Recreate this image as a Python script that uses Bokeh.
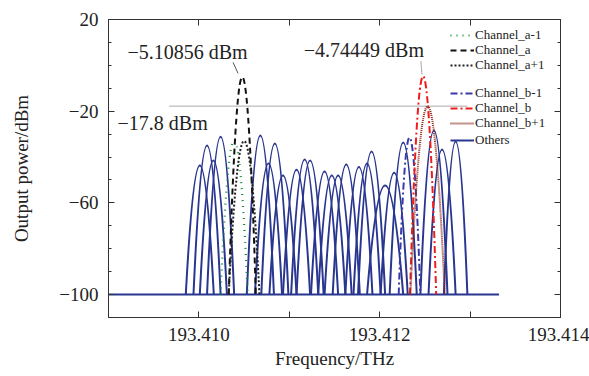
from bokeh.plotting import figure
from bokeh.models import (Range1d, FixedTicker, LinearAxis, Legend, LegendItem,
                          Label, ColumnDataSource)
from bokeh.embed import file_html
from bokeh.resources import INLINE

# ---------------- data ----------------
others_freq = [193.41001, 193.41009, 193.41016, 193.41024, 193.41068, 193.41077,
               193.41084, 193.41093, 193.41108, 193.41117, 193.41123, 193.41139,
               193.41147, 193.41154, 193.41163, 193.41177, 193.41186, 193.41191,
               193.41206, 193.41216, 193.41226, 193.41260, 193.41269, 193.41284]
others_peak = [-43.7, -35.0, -41.5, -31.1, -30.6, -42.8,
               -34.1, -48.1, -45.5, -41.1, -41.5, -46.3,
               -48.1, -48.1, -43.3, -44.3, -42.8, -37.6,
               -52.4, -46.8, -33.7, -28.4, -36.7, -33.2]
others_hw = [0.000155, 0.00015, 0.00015, 0.00015, 0.00015, 0.00015,
             0.00015, 0.00015, 0.00015, 0.00015, 0.00015, 0.00015,
             0.00015, 0.00015, 0.00015, 0.00015, 0.00015, 0.00015,
             0.00020, 0.00015, 0.00015, 0.00015, 0.00015, 0.00013]

channel_names = ["Channel_a-1", "Channel_a", "Channel_a+1",
                 "Channel_b-1", "Channel_b", "Channel_b+1"]
channel_freq = [193.41039, 193.41048, 193.41050, 193.41233, 193.41248, 193.41253]
channel_peak = [-32.8, -5.10856, -33.0, -31.5, -4.74449, -17.8]
channel_hw = [0.00015, 0.00015, 0.00017, 0.00012, 0.000145, 0.00019]

floor_dbm = -100.0
floor_span = [193.4085, 193.41332]
ref_level = -17.8
ref_span = [193.40967, 193.41297]

x_ticks = [193.410, 193.412, 193.414]
x_tick_labels = ["193.410", "193.412", "193.414"]
x_minor = [193.409, 193.411, 193.413]
y_ticks = [20, -20, -60, -100]
y_tick_labels = ["20", "\u221220", "\u221260", "\u2212100"]
y_minor = [10, 0, -10, -30, -40, -50, -70, -80, -90, -110]

FONT = "Liberation Serif"
BLUE = "#28368f"


def hump_source(freq, peak, hw):
    # quadratic Bezier from floor to floor whose apex is at the peak
    return ColumnDataSource(dict(
        x0=[f - w for f, w in zip(freq, hw)],
        x1=[f + w for f, w in zip(freq, hw)],
        y0=[floor_dbm] * len(freq),
        y1=[floor_dbm] * len(freq),
        cx=list(freq),
        cy=[2 * pk - floor_dbm for pk in peak],
    ))


p = figure(width=589, height=376,
           x_range=Range1d(193.409, 193.414), y_range=Range1d(-110, 20),
           output_backend="svg", toolbar_location=None,
           min_border_left=108, min_border_right=29,
           min_border_top=19, min_border_bottom=59)
p.grid.visible = False
p.background_fill_color = "white"
p.border_fill_color = "white"
p.outline_line_color = "#333333"

# axes
for ax in (p.xaxis[0], p.yaxis[0]):
    ax.axis_line_color = "#333333"
    ax.major_tick_line_color = "#333333"
    ax.minor_tick_line_color = "#333333"
    ax.major_tick_in = 6
    ax.major_tick_out = 0
    ax.minor_tick_out = 0
    ax.major_label_text_font = FONT
    ax.major_label_text_font_size = "19px"
    ax.major_label_text_color = "#222222"
    ax.axis_label_text_font = FONT
    ax.axis_label_text_font_size = "19px"
    ax.axis_label_text_font_style = "normal"
    ax.axis_label_text_color = "#222222"

p.xaxis.ticker = FixedTicker(ticks=x_ticks, minor_ticks=x_minor)
p.xaxis.major_label_overrides = {t: s for t, s in zip(x_ticks, x_tick_labels)}
p.xaxis.minor_tick_in = 6
p.xaxis.major_label_standoff = 10
p.xaxis.axis_label = "Frequency/THz"
p.xaxis.axis_label_standoff = 4

p.yaxis.ticker = FixedTicker(ticks=y_ticks, minor_ticks=y_minor)
p.yaxis.major_label_overrides = {t: s for t, s in zip(y_ticks, y_tick_labels)}
p.yaxis.minor_tick_in = 3
p.yaxis.major_label_standoff = 10
p.yaxis.axis_label = "Output power/dBm"
p.yaxis.axis_label_standoff = 24

for loc, ticks, minor, mi in (("right", y_ticks, y_minor, 3),
                              ("above", x_ticks, x_minor, 6)):
    ax = LinearAxis(ticker=FixedTicker(ticks=ticks, minor_ticks=minor),
                    major_tick_in=6, major_tick_out=0,
                    minor_tick_in=mi, minor_tick_out=0,
                    major_label_overrides={t: "" for t in ticks},
                    major_label_standoff=0,
                    axis_line_color="#333333", major_tick_line_color="#333333",
                    minor_tick_line_color="#333333")
    p.add_layout(ax, loc)

# reference line and floor
p.line(ref_span, [ref_level, ref_level], line_color="#aaaaaa", line_width=1)
p.line(floor_span, [floor_dbm, floor_dbm], line_color=BLUE, line_width=2)

# other channels
r_others = p.quadratic(x0="x0", y0="y0", x1="x1", y1="y1", cx="cx", cy="cy",
                       source=hump_source(others_freq, others_peak, others_hw),
                       line_color=BLUE, line_width=2)

styles = [
    dict(line_color="#138a36", line_dash="1 5", line_width=2.2),
    dict(line_color="#111111", line_dash="6 4", line_width=2),
    dict(line_color="#222222", line_dash="2 2", line_width=2),
    dict(line_color="#3a3aa8", line_dash="7 3 2 3", line_width=2),
    dict(line_color="#ee1c1c", line_dash="7 3 2 3", line_width=2),
    dict(line_color="#8b2a1a", line_dash="1 1", line_width=2),
]
ch_renderers = []
for i in range(len(channel_names)):
    src = hump_source([channel_freq[i]], [channel_peak[i]], [channel_hw[i]])
    r = p.quadratic(x0="x0", y0="y0", x1="x1", y1="y1", cx="cx", cy="cy",
                    source=src, **styles[i])
    ch_renderers.append(r)

# annotations
ann_text = ["\u22125.10856 dBm", "\u22124.74449 dBm", "\u221217.8 dBm"]
ann_x = [193.40921, 193.41116, 193.40910]
ann_y = [5.7, 6.5, -25.2]
for t, x, y in zip(ann_text, ann_x, ann_y):
    p.add_layout(Label(x=x, y=y, text=t, text_font=FONT, text_font_size="20px",
                       text_baseline="middle", text_color="#222222"))
p.line([193.410378, 193.410433], [1.3, -3.5], line_color="#555555", line_width=1)
p.line([193.412456, 193.412467], [1.7, -3.9], line_color="#555555",
       line_width=1, line_dash="1 1")

# legend: one entry per box, rows packed tightly as in the reference
legend_names = channel_names + ["Others"]
legend_rends = ch_renderers + [r_others]
legend_vy = [274, 259, 244, 216, 201, 186, 169]
for n, r, vy in zip(legend_names, legend_rends, legend_vy):
    lg = Legend(items=[LegendItem(label=n, renderers=[r])],
                location=(342, vy), orientation="vertical",
                glyph_width=24, glyph_height=12, label_height=12, label_standoff=1,
                spacing=0, padding=0, margin=0,
                border_line_alpha=0, background_fill_alpha=0,
                label_text_font=FONT, label_text_font_size="13px",
                label_text_color="#222222")
    p.add_layout(lg)

open("out.html", "w").write(file_html(p, INLINE))
